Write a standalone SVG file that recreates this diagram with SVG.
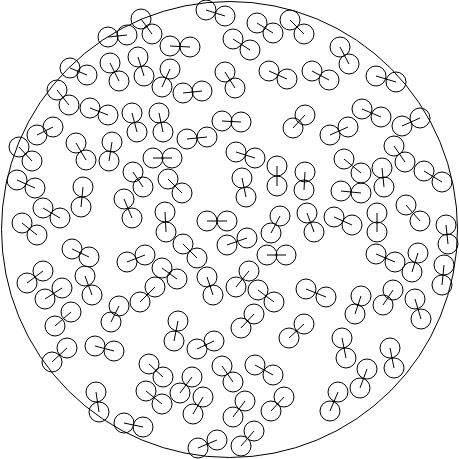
<svg xmlns="http://www.w3.org/2000/svg" width="459" height="459" viewBox="0 0 459 459">
<style>
circle{fill:none;stroke:#000;stroke-width:1}
line{stroke:#000;stroke-width:1}
</style>
<rect width="459" height="459" fill="#fff"/>
<circle id="boundary" cx="229.5" cy="229.5" r="228"/>
<g id="pairs">
<g><line x1="141" y1="19" x2="152" y2="34"/><circle cx="141" cy="19" r="10"/><circle cx="152" cy="34" r="10"/></g>
<g><line x1="108" y1="37" x2="127" y2="35"/><circle cx="108" cy="37" r="10"/><circle cx="127" cy="35" r="10"/></g>
<g><line x1="70" y1="68" x2="87" y2="75"/><circle cx="70" cy="68" r="10"/><circle cx="87" cy="75" r="10"/></g>
<g><line x1="110" y1="63" x2="119" y2="81"/><circle cx="110" cy="63" r="10"/><circle cx="119" cy="81" r="10"/></g>
<g><line x1="138" y1="57" x2="144" y2="76"/><circle cx="138" cy="57" r="10"/><circle cx="144" cy="76" r="10"/></g>
<g><line x1="57" y1="90" x2="69" y2="105"/><circle cx="57" cy="90" r="10"/><circle cx="69" cy="105" r="10"/></g>
<g><line x1="90" y1="108" x2="108" y2="115"/><circle cx="90" cy="108" r="10"/><circle cx="108" cy="115" r="10"/></g>
<g><line x1="132" y1="113" x2="137" y2="132"/><circle cx="132" cy="113" r="10"/><circle cx="137" cy="132" r="10"/></g>
<g><line x1="53" y1="127" x2="37" y2="135"/><circle cx="53" cy="127" r="10"/><circle cx="37" cy="135" r="10"/></g>
<g><line x1="19" y1="147" x2="32" y2="161"/><circle cx="19" cy="147" r="10"/><circle cx="32" cy="161" r="10"/></g>
<g><line x1="76" y1="143" x2="86" y2="160"/><circle cx="76" cy="143" r="10"/><circle cx="86" cy="160" r="10"/></g>
<g><line x1="112" y1="142" x2="109" y2="161"/><circle cx="112" cy="142" r="10"/><circle cx="109" cy="161" r="10"/></g>
<g><line x1="206" y1="10" x2="225" y2="16"/><circle cx="206" cy="10" r="10"/><circle cx="225" cy="16" r="10"/></g>
<g><line x1="170" y1="46" x2="190" y2="47"/><circle cx="170" cy="46" r="10"/><circle cx="190" cy="47" r="10"/></g>
<g><line x1="233" y1="39" x2="250" y2="50"/><circle cx="233" cy="39" r="10"/><circle cx="250" cy="50" r="10"/></g>
<g><line x1="257" y1="23" x2="273" y2="33"/><circle cx="257" cy="23" r="10"/><circle cx="273" cy="33" r="10"/></g>
<g><line x1="290" y1="20" x2="304" y2="34"/><circle cx="290" cy="20" r="10"/><circle cx="304" cy="34" r="10"/></g>
<g><line x1="170" y1="69" x2="162" y2="87"/><circle cx="170" cy="69" r="10"/><circle cx="162" cy="87" r="10"/></g>
<g><line x1="183" y1="93" x2="202" y2="91"/><circle cx="183" cy="93" r="10"/><circle cx="202" cy="91" r="10"/></g>
<g><line x1="225" y1="72" x2="235" y2="88"/><circle cx="225" cy="72" r="10"/><circle cx="235" cy="88" r="10"/></g>
<g><line x1="269" y1="71" x2="287" y2="79"/><circle cx="269" cy="71" r="10"/><circle cx="287" cy="79" r="10"/></g>
<g><line x1="159" y1="113" x2="163" y2="132"/><circle cx="159" cy="113" r="10"/><circle cx="163" cy="132" r="10"/></g>
<g><line x1="222" y1="121" x2="241" y2="122"/><circle cx="222" cy="121" r="10"/><circle cx="241" cy="122" r="10"/></g>
<g><line x1="187" y1="139" x2="207" y2="137"/><circle cx="187" cy="139" r="10"/><circle cx="207" cy="137" r="10"/></g>
<g><line x1="293" y1="128" x2="305" y2="115"/><circle cx="293" cy="128" r="10"/><circle cx="305" cy="115" r="10"/></g>
<g><line x1="236" y1="152" x2="255" y2="158"/><circle cx="236" cy="152" r="10"/><circle cx="255" cy="158" r="10"/></g>
<g><line x1="153" y1="158" x2="172" y2="158"/><circle cx="153" cy="158" r="10"/><circle cx="172" cy="158" r="10"/></g>
<g><line x1="340" y1="47" x2="349" y2="64"/><circle cx="340" cy="47" r="10"/><circle cx="349" cy="64" r="10"/></g>
<g><line x1="312" y1="71" x2="329" y2="80"/><circle cx="312" cy="71" r="10"/><circle cx="329" cy="80" r="10"/></g>
<g><line x1="376" y1="76" x2="396" y2="82"/><circle cx="376" cy="76" r="10"/><circle cx="396" cy="82" r="10"/></g>
<g><line x1="362" y1="109" x2="381" y2="117"/><circle cx="362" cy="109" r="10"/><circle cx="381" cy="117" r="10"/></g>
<g><line x1="330" y1="135" x2="348" y2="127"/><circle cx="330" cy="135" r="10"/><circle cx="348" cy="127" r="10"/></g>
<g><line x1="402" y1="126" x2="420" y2="118"/><circle cx="402" cy="126" r="10"/><circle cx="420" cy="118" r="10"/></g>
<g><line x1="394" y1="146" x2="405" y2="162"/><circle cx="394" cy="146" r="10"/><circle cx="405" cy="162" r="10"/></g>
<g><line x1="344" y1="159" x2="361" y2="173"/><circle cx="344" cy="159" r="10"/><circle cx="361" cy="173" r="10"/></g>
<g><line x1="382" y1="168" x2="384" y2="187"/><circle cx="382" cy="168" r="10"/><circle cx="384" cy="187" r="10"/></g>
<g><line x1="424" y1="171" x2="442" y2="182"/><circle cx="424" cy="171" r="10"/><circle cx="442" cy="182" r="10"/></g>
<g><line x1="305" y1="172" x2="304" y2="190"/><circle cx="305" cy="172" r="10"/><circle cx="304" cy="190" r="10"/></g>
<g><line x1="341" y1="191" x2="361" y2="193"/><circle cx="341" cy="191" r="10"/><circle cx="361" cy="193" r="10"/></g>
<g><line x1="406" y1="205" x2="420" y2="221"/><circle cx="406" cy="205" r="10"/><circle cx="420" cy="221" r="10"/></g>
<g><line x1="377" y1="213" x2="377" y2="232"/><circle cx="377" cy="213" r="10"/><circle cx="377" cy="232" r="10"/></g>
<g><line x1="334" y1="217" x2="352" y2="225"/><circle cx="334" cy="217" r="10"/><circle cx="352" cy="225" r="10"/></g>
<g><line x1="307" y1="213" x2="314" y2="232"/><circle cx="307" cy="213" r="10"/><circle cx="314" cy="232" r="10"/></g>
<g><line x1="446" y1="225" x2="448" y2="244"/><circle cx="446" cy="225" r="10"/><circle cx="448" cy="244" r="10"/></g>
<g><line x1="376" y1="254" x2="395" y2="262"/><circle cx="376" cy="254" r="10"/><circle cx="395" cy="262" r="10"/></g>
<g><line x1="418" y1="253" x2="412" y2="272"/><circle cx="418" cy="253" r="10"/><circle cx="412" cy="272" r="10"/></g>
<g><line x1="444" y1="265" x2="442" y2="285"/><circle cx="444" cy="265" r="10"/><circle cx="442" cy="285" r="10"/></g>
<g><line x1="306" y1="289" x2="326" y2="297"/><circle cx="306" cy="289" r="10"/><circle cx="326" cy="297" r="10"/></g>
<g><line x1="393" y1="290" x2="383" y2="305"/><circle cx="393" cy="290" r="10"/><circle cx="383" cy="305" r="10"/></g>
<g><line x1="361" y1="296" x2="355" y2="314"/><circle cx="361" cy="296" r="10"/><circle cx="355" cy="314" r="10"/></g>
<g><line x1="415" y1="299" x2="421" y2="319"/><circle cx="415" cy="299" r="10"/><circle cx="421" cy="319" r="10"/></g>
<g><line x1="304" y1="324" x2="289" y2="338"/><circle cx="304" cy="324" r="10"/><circle cx="289" cy="338" r="10"/></g>
<g><line x1="342" y1="338" x2="346" y2="358"/><circle cx="342" cy="338" r="10"/><circle cx="346" cy="358" r="10"/></g>
<g><line x1="390" y1="348" x2="394" y2="368"/><circle cx="390" cy="348" r="10"/><circle cx="394" cy="368" r="10"/></g>
<g><line x1="367" y1="369" x2="360" y2="388"/><circle cx="367" cy="369" r="10"/><circle cx="360" cy="388" r="10"/></g>
<g><line x1="338" y1="392" x2="330" y2="411"/><circle cx="338" cy="392" r="10"/><circle cx="330" cy="411" r="10"/></g>
<g><line x1="178" y1="321" x2="174" y2="341"/><circle cx="178" cy="321" r="10"/><circle cx="174" cy="341" r="10"/></g>
<g><line x1="254" y1="314" x2="241" y2="328"/><circle cx="254" cy="314" r="10"/><circle cx="241" cy="328" r="10"/></g>
<g><line x1="197" y1="349" x2="214" y2="341"/><circle cx="197" cy="349" r="10"/><circle cx="214" cy="341" r="10"/></g>
<g><line x1="149" y1="364" x2="163" y2="377"/><circle cx="149" cy="364" r="10"/><circle cx="163" cy="377" r="10"/></g>
<g><line x1="222" y1="366" x2="233" y2="382"/><circle cx="222" cy="366" r="10"/><circle cx="233" cy="382" r="10"/></g>
<g><line x1="255" y1="365" x2="273" y2="375"/><circle cx="255" cy="365" r="10"/><circle cx="273" cy="375" r="10"/></g>
<g><line x1="192" y1="377" x2="180" y2="393"/><circle cx="192" cy="377" r="10"/><circle cx="180" cy="393" r="10"/></g>
<g><line x1="146" y1="391" x2="162" y2="404"/><circle cx="146" cy="391" r="10"/><circle cx="162" cy="404" r="10"/></g>
<g><line x1="203" y1="397" x2="193" y2="414"/><circle cx="203" cy="397" r="10"/><circle cx="193" cy="414" r="10"/></g>
<g><line x1="245" y1="401" x2="233" y2="417"/><circle cx="245" cy="401" r="10"/><circle cx="233" cy="417" r="10"/></g>
<g><line x1="284" y1="397" x2="271" y2="411"/><circle cx="284" cy="397" r="10"/><circle cx="271" cy="411" r="10"/></g>
<g><line x1="124" y1="423" x2="143" y2="427"/><circle cx="124" cy="423" r="10"/><circle cx="143" cy="427" r="10"/></g>
<g><line x1="198" y1="448" x2="217" y2="440"/><circle cx="198" cy="448" r="10"/><circle cx="217" cy="440" r="10"/></g>
<g><line x1="241" y1="446" x2="254" y2="431"/><circle cx="241" cy="446" r="10"/><circle cx="254" cy="431" r="10"/></g>
<g><line x1="43" y1="271" x2="27" y2="283"/><circle cx="43" cy="271" r="10"/><circle cx="27" cy="283" r="10"/></g>
<g><line x1="62" y1="288" x2="45" y2="299"/><circle cx="62" cy="288" r="10"/><circle cx="45" cy="299" r="10"/></g>
<g><line x1="85" y1="276" x2="92" y2="295"/><circle cx="85" cy="276" r="10"/><circle cx="92" cy="295" r="10"/></g>
<g><line x1="119" y1="306" x2="111" y2="322"/><circle cx="119" cy="306" r="10"/><circle cx="111" cy="322" r="10"/></g>
<g><line x1="140" y1="302" x2="155" y2="287"/><circle cx="140" cy="302" r="10"/><circle cx="155" cy="287" r="10"/></g>
<g><line x1="71" y1="312" x2="55" y2="326"/><circle cx="71" cy="312" r="10"/><circle cx="55" cy="326" r="10"/></g>
<g><line x1="95" y1="346" x2="114" y2="351"/><circle cx="95" cy="346" r="10"/><circle cx="114" cy="351" r="10"/></g>
<g><line x1="67" y1="348" x2="52" y2="362"/><circle cx="67" cy="348" r="10"/><circle cx="52" cy="362" r="10"/></g>
<g><line x1="96" y1="392" x2="99" y2="412"/><circle cx="96" cy="392" r="10"/><circle cx="99" cy="412" r="10"/></g>
<g><line x1="17" y1="180" x2="35" y2="188"/><circle cx="17" cy="180" r="10"/><circle cx="35" cy="188" r="10"/></g>
<g><line x1="43" y1="208" x2="60" y2="218"/><circle cx="43" cy="208" r="10"/><circle cx="60" cy="218" r="10"/></g>
<g><line x1="22" y1="223" x2="37" y2="235"/><circle cx="22" cy="223" r="10"/><circle cx="37" cy="235" r="10"/></g>
<g><line x1="83" y1="187" x2="81" y2="207"/><circle cx="83" cy="187" r="10"/><circle cx="81" cy="207" r="10"/></g>
<g><line x1="133" y1="172" x2="143" y2="187"/><circle cx="133" cy="172" r="10"/><circle cx="143" cy="187" r="10"/></g>
<g><line x1="124" y1="199" x2="132" y2="218"/><circle cx="124" cy="199" r="10"/><circle cx="132" cy="218" r="10"/></g>
<g><line x1="72" y1="249" x2="89" y2="257"/><circle cx="72" cy="249" r="10"/><circle cx="89" cy="257" r="10"/></g>
<g><line x1="127" y1="262" x2="145" y2="255"/><circle cx="127" cy="262" r="10"/><circle cx="145" cy="255" r="10"/></g>
<g><line x1="162" y1="268" x2="177" y2="279"/><circle cx="162" cy="268" r="10"/><circle cx="177" cy="279" r="10"/></g>
<g><line x1="168" y1="179" x2="182" y2="193"/><circle cx="168" cy="179" r="10"/><circle cx="182" cy="193" r="10"/></g>
<g><line x1="242" y1="178" x2="246" y2="197"/><circle cx="242" cy="178" r="10"/><circle cx="246" cy="197" r="10"/></g>
<g><line x1="277" y1="166" x2="277" y2="186"/><circle cx="277" cy="166" r="10"/><circle cx="277" cy="186" r="10"/></g>
<g><line x1="165" y1="212" x2="166" y2="232"/><circle cx="165" cy="212" r="10"/><circle cx="166" cy="232" r="10"/></g>
<g><line x1="207" y1="221" x2="227" y2="221"/><circle cx="207" cy="221" r="10"/><circle cx="227" cy="221" r="10"/></g>
<g><line x1="280" y1="216" x2="271" y2="233"/><circle cx="280" cy="216" r="10"/><circle cx="271" cy="233" r="10"/></g>
<g><line x1="247" y1="238" x2="227" y2="245"/><circle cx="247" cy="238" r="10"/><circle cx="227" cy="245" r="10"/></g>
<g><line x1="183" y1="244" x2="197" y2="258"/><circle cx="183" cy="244" r="10"/><circle cx="197" cy="258" r="10"/></g>
<g><line x1="267" y1="255" x2="286" y2="255"/><circle cx="267" cy="255" r="10"/><circle cx="286" cy="255" r="10"/></g>
<g><line x1="249" y1="271" x2="236" y2="287"/><circle cx="249" cy="271" r="10"/><circle cx="236" cy="287" r="10"/></g>
<g><line x1="207" y1="277" x2="213" y2="295"/><circle cx="207" cy="277" r="10"/><circle cx="213" cy="295" r="10"/></g>
<g><line x1="258" y1="290" x2="274" y2="302"/><circle cx="258" cy="290" r="10"/><circle cx="274" cy="302" r="10"/></g>
</g>
</svg>
